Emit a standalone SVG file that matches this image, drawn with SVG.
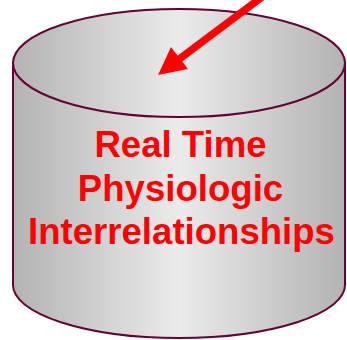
<svg xmlns="http://www.w3.org/2000/svg" width="347" height="340" viewBox="0 0 347 340">
<defs>
<linearGradient id="g" x1="13" y1="0" x2="345" y2="0" gradientUnits="userSpaceOnUse">
<stop offset="0" stop-color="#b3b3b3"/>
<stop offset="0.5" stop-color="#ebebeb"/>
<stop offset="1" stop-color="#b3b3b3"/>
</linearGradient>
<style>
.cyl{fill:url(#g);stroke:#660033;stroke-width:2}
.t{font-family:"Liberation Sans",Arial,sans-serif;font-weight:bold;font-size:36.6px;fill:#ff0000;text-anchor:middle}
</style>
</defs>
<g id="cylinder">
<path class="cyl" d="M13,63 L13,285 A166,53 0 0 0 345,285 L345,63"/>
<ellipse class="cyl" cx="179" cy="63" rx="166" ry="54"/>
<text class="t" x="180.5" y="157">Real Time</text>
<text class="t" x="180.5" y="200.5">Physiologic</text>
<text class="t" x="181.5" y="244">Interrelationships</text>
</g>
<g id="connectors">
<line x1="262" y1="-3" x2="176" y2="61.5" stroke="#ff0000" stroke-width="7.5"/>
<polygon points="158,75 171,47 188,69" fill="#ff0000"/>
</g>
</svg>
